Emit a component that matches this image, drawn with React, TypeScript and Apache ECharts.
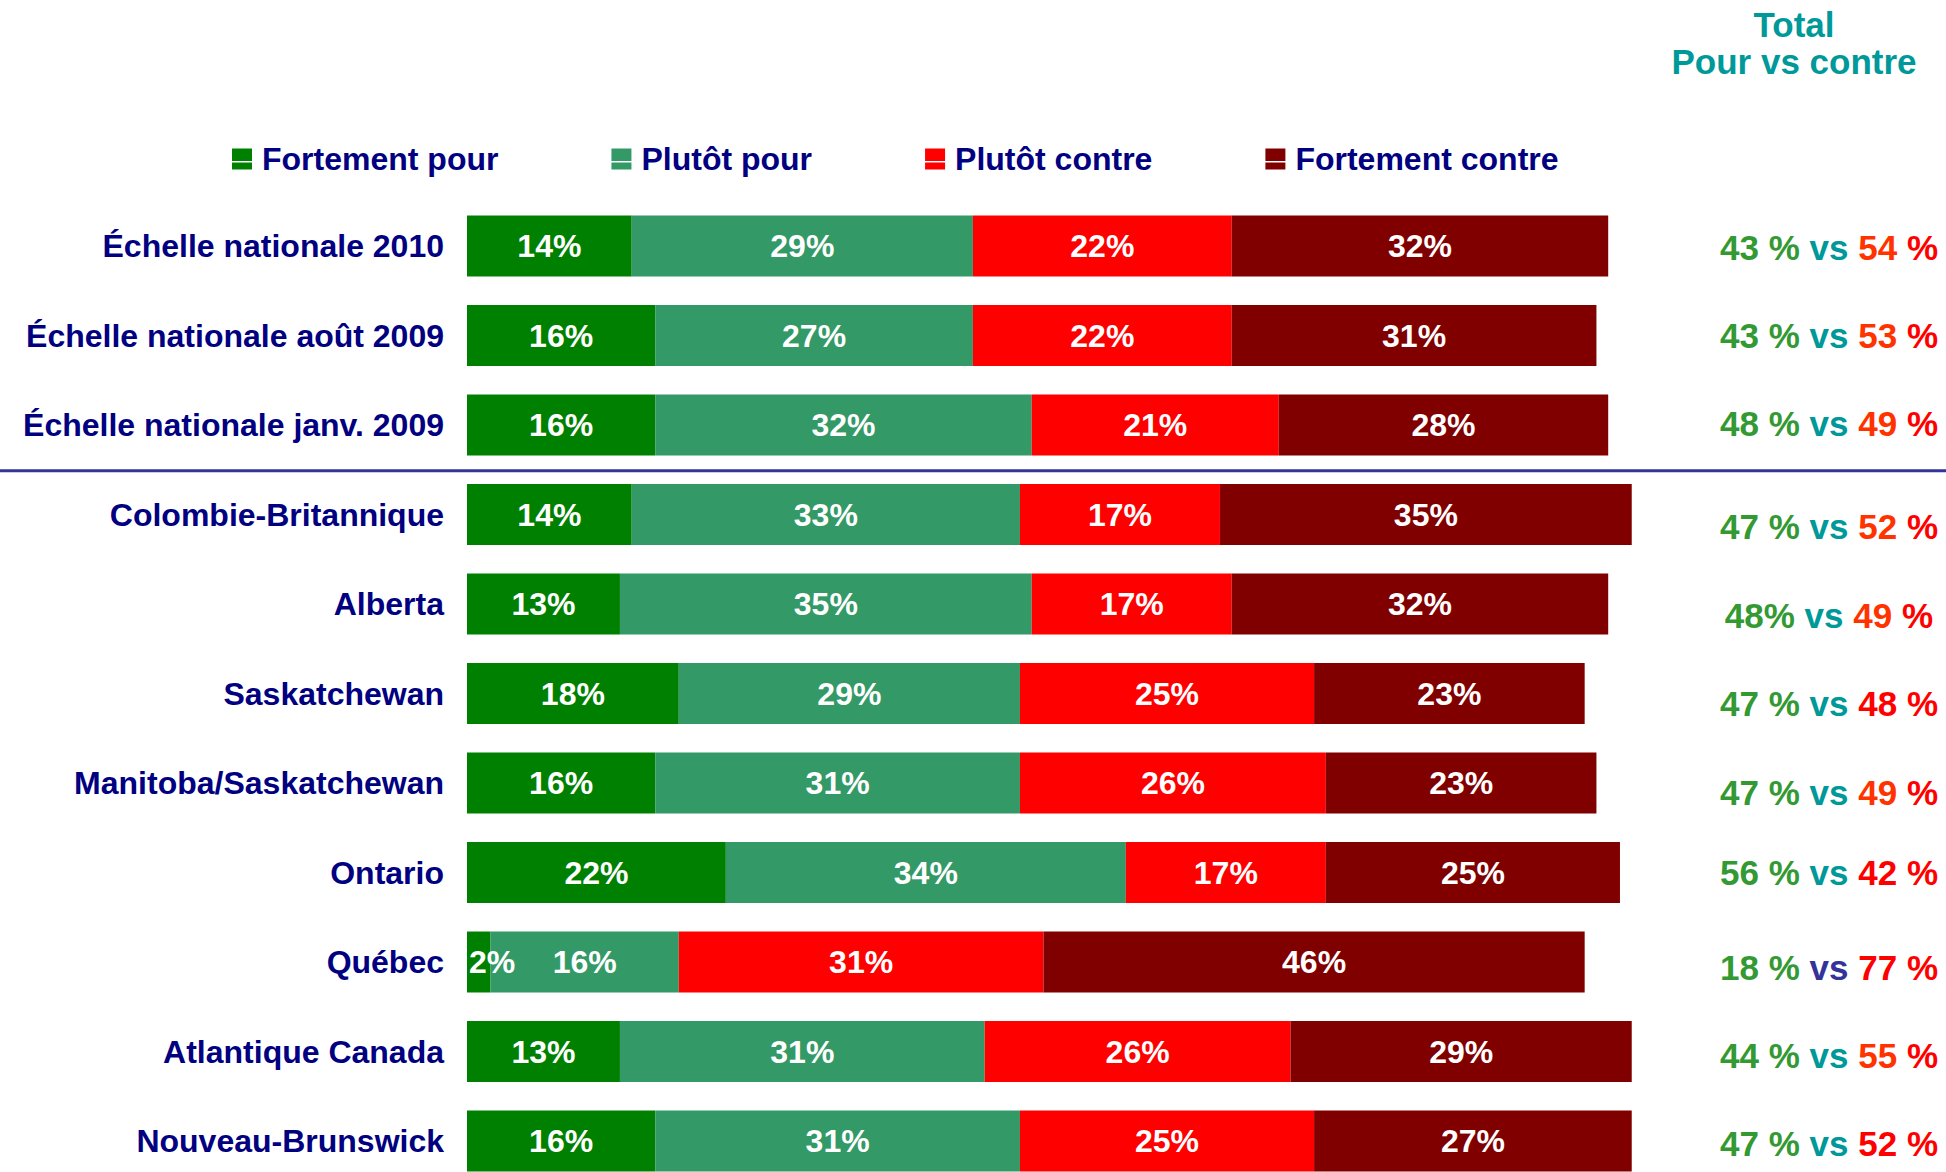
import React, { useEffect, useRef } from 'react';
import * as echarts from 'echarts';

const categories = [
  'Échelle nationale 2010',
  'Échelle nationale août 2009',
  'Échelle nationale janv. 2009',
  'Colombie-Britannique',
  'Alberta',
  'Saskatchewan',
  'Manitoba/Saskatchewan',
  'Ontario',
  'Québec',
  'Atlantique Canada',
  'Nouveau-Brunswick',
];
const seriesNames = ['Fortement pour', 'Plutôt pour', 'Plutôt contre', 'Fortement contre'];
const fortementPour = [14, 16, 16, 14, 13, 18, 16, 22, 2, 13, 16];
const plutotPour = [29, 27, 32, 33, 35, 29, 31, 34, 16, 31, 31];
const plutotContre = [22, 22, 21, 17, 17, 25, 26, 17, 31, 26, 25];
const fortementContre = [32, 31, 28, 35, 32, 23, 23, 25, 46, 29, 27];

// right-hand "Total Pour vs contre" labels
const pourTotals = ['43 %', '43 %', '48 %', '47 %', '48%', '47 %', '47 %', '56 %', '18 %', '44 %', '47 %'];
const contreTotals = [54, 53, 49, 52, 49, 48, 49, 42, 77, 55, 52];

// styles (kept apart from the data)
const seriesColors = ['#008000', '#339966', '#FF0000', '#800000'];
const contreStyle = ['o', 'o', 'o', 'o', 'o', 'r', 'o', 'r', 'r', 'o', 'r'];
const vsStyle = ['v', 'v', 'v', 'v', 'v', 'v', 'v', 'v', 'vq', 'v', 'v'];
const totalShiftY = [1, 0, -2, 12, 11, 10, 9, 0, 5, 4, 2];
const totalShiftX = [0, 0, 0, 0, 5, 0, 0, 0, 0, 0, 0];

const FONT = '"Liberation Sans", Arial, sans-serif';
const NAVY = '#000080';
const GRID_LEFT = 467;
const GRID_TOP = 201.25;
const GRID_WIDTH = 1176.5;
const ROW = 89.5;
const TOTAL_RIGHT = 1938;

export default function App() {
  const ref = useRef<HTMLDivElement>(null);

  useEffect(() => {
    if (!ref.current) return;
    const chart = echarts.init(ref.current, undefined, { renderer: 'svg' });
    const values = [fortementPour, plutotPour, plutotContre, fortementContre];

    const totalData = categories.map((_, i) => {
      const dy = totalShiftY[i];
      const dx = totalShiftX[i];
      return {
        value: 'row' + i,
        textStyle: {
          padding: [dy > 0 ? 2 * dy : 0, dx, dy < 0 ? -2 * dy : 0, 0],
        },
      };
    });

    const rich = (color: string) => ({ color, fontSize: 35, fontWeight: 'bold', fontFamily: FONT });

    chart.setOption({
      animation: false,
      backgroundColor: '#ffffff',
      textStyle: { fontFamily: FONT },
      title: {
        text: 'Total\nPour vs contre',
        left: 1789,
        top: 1,
        textAlign: 'center',
        textStyle: {
          color: '#009999',
          fontSize: 35,
          fontWeight: 'bold',
          fontFamily: FONT,
          lineHeight: 37,
        },
      },
      legend: {
        left: 227,
        top: 138,
        itemWidth: 20,
        itemHeight: 21,
        itemGap: 113,
        icon: 'path://M0,0H20V12.5H0Z M0,14H20V21H0Z',
        data: seriesNames,
        textStyle: {
          color: NAVY,
          fontSize: 32,
          fontWeight: 'bold',
          fontFamily: FONT,
          padding: [0, 0, 0, 5],
        },
      },
      grid: {
        left: GRID_LEFT,
        top: GRID_TOP,
        width: GRID_WIDTH,
        height: ROW * categories.length,
        outerBoundsMode: 'none',
        containLabel: false,
      },
      xAxis: {
        type: 'value',
        min: 0,
        max: 100,
        show: false,
        splitLine: { show: false },
      },
      yAxis: [
        {
          type: 'category',
          data: categories,
          inverse: true,
          axisLine: { show: false },
          axisTick: { show: false },
          splitLine: { show: false },
          axisLabel: {
            margin: 23,
            color: NAVY,
            fontSize: 32,
            fontWeight: 'bold',
            fontFamily: FONT,
          },
        },
        {
          type: 'category',
          position: 'left',
          offset: -(TOTAL_RIGHT - GRID_LEFT),
          data: totalData,
          inverse: true,
          axisLine: { show: false },
          axisTick: { show: false },
          splitLine: { show: false },
          axisLabel: {
            margin: 0,
            fontSize: 35,
            fontWeight: 'bold',
            fontFamily: FONT,
            color: '#339933',
            formatter: (_v: string, i: number) =>
              `{g|${pourTotals[i]}} {${vsStyle[i]}|vs} {${contreStyle[i]}|${contreTotals[i]}} {r|%}`,
            rich: {
              g: rich('#339933'),
              v: rich('#009999'),
              vq: rich('#333399'),
              o: rich('#FF3300'),
              r: rich('#FF0000'),
            },
          },
        },
      ],
      graphic: [
        {
          type: 'line',
          shape: { x1: 0, y1: GRID_TOP + 3 * ROW + 1, x2: 1946, y2: GRID_TOP + 3 * ROW + 1 },
          style: { stroke: '#333399', lineWidth: 3 },
          z: 10,
        },
      ],
      series: seriesNames.map((name, si) => ({
        name,
        type: 'bar',
        stack: 'total',
        yAxisIndex: 0,
        barWidth: 61,
        itemStyle: { color: seriesColors[si] },
        label: {
          show: true,
          position: 'inside',
          color: '#ffffff',
          fontSize: 32,
          fontWeight: 'bold',
          fontFamily: FONT,
          formatter: '{c}%',
        },
        data: values[si].map((v) =>
          v < 5 ? { value: v, label: { position: 'insideLeft', distance: 2 } } : v
        ),
      })),
    });

    return () => chart.dispose();
  }, []);

  return (
    <div
      ref={ref}
      style={{ position: 'fixed', left: 0, top: 0, width: 1946, height: 1172 }}
    />
  );
}
